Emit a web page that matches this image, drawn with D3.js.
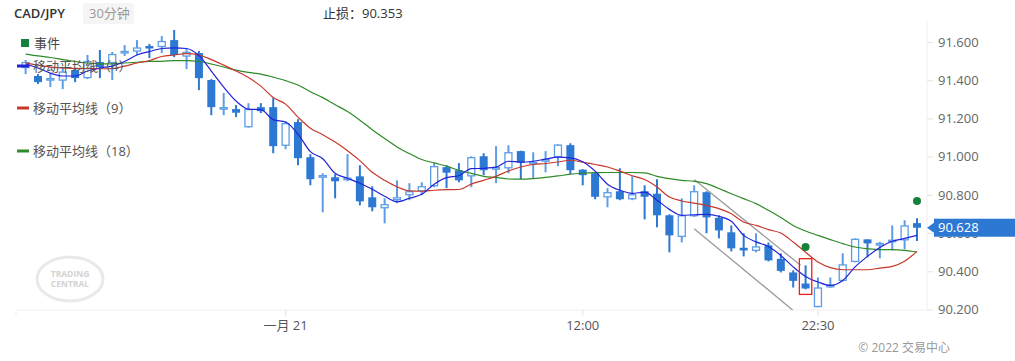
<!DOCTYPE html>
<html>
<head>
<meta charset="utf-8">
<script src="https://cdn.jsdelivr.net/npm/d3@7"></script>
<style>
  body { margin: 0; background: #fff; }
  svg { display: block; font-family: "Open Sans", "Noto Sans CJK SC", sans-serif; }
</style>
</head>
<body>
<div id="chart"></div>
<script>
// 30 minute candles, CAD/JPY
const open = [91.464,91.422,91.406,91.398,91.453,91.411,91.495,91.490,91.542,91.550,
  91.579,91.574,91.610,91.524,91.542,91.401,91.257,91.249,91.154,91.259,
  91.259,91.057,91.181,90.997,90.895,90.892,90.879,90.897,90.787,90.730,
  90.772,90.798,90.819,90.845,90.945,90.929,90.897,91.002,90.934,90.939,
  91.029,90.966,90.984,90.997,91.060,90.932,90.913,90.787,90.819,90.777,
  90.819,90.806,90.693,90.580,90.688,90.814,90.680,90.604,90.523,90.507,
  90.536,90.465,90.394,90.336,90.213,90.318,90.350,90.449,90.567,90.541,
  90.554,90.562,90.652];
const high = [91.506,91.432,91.437,91.464,91.464,91.532,91.558,91.548,91.584,91.610,
  91.590,91.631,91.663,91.563,91.553,91.406,91.333,91.270,91.280,91.280,
  91.306,91.186,91.196,91.013,90.913,90.908,91.013,90.955,90.845,90.782,
  90.876,90.861,90.866,90.966,90.955,90.966,91.002,91.018,91.055,91.060,
  91.031,91.023,91.029,91.065,91.070,90.934,90.921,90.835,90.939,90.897,
  90.850,90.882,90.698,90.782,90.850,90.819,90.693,90.640,90.599,90.599,
  90.551,90.494,90.405,90.431,90.368,90.368,90.494,90.572,90.567,90.554,
  90.640,90.667,90.677];
const low = [91.432,91.380,91.364,91.354,91.390,91.406,91.411,91.401,91.527,91.532,
  91.516,91.542,91.521,91.458,91.348,91.217,91.217,91.207,91.152,91.228,
  91.018,91.039,90.955,90.850,90.709,90.782,90.871,90.745,90.714,90.651,
  90.756,90.772,90.798,90.840,90.835,90.866,90.840,90.903,90.861,90.913,
  90.882,90.887,90.918,90.950,90.908,90.850,90.777,90.735,90.772,90.772,
  90.672,90.630,90.499,90.551,90.685,90.599,90.572,90.504,90.478,90.499,
  90.452,90.394,90.315,90.305,90.211,90.313,90.347,90.447,90.473,90.468,
  90.509,90.515,90.558];
const close = [91.495,91.390,91.411,91.445,91.411,91.500,91.469,91.537,91.553,91.571,
  91.566,91.605,91.532,91.548,91.411,91.259,91.259,91.230,91.249,91.238,
  91.055,91.175,90.992,90.882,90.903,90.871,90.890,90.766,90.735,90.751,
  90.787,90.819,90.845,90.950,90.916,90.876,90.997,90.929,90.945,91.023,
  90.968,90.973,90.987,91.063,90.929,90.903,90.790,90.814,90.777,90.803,
  90.790,90.693,90.588,90.693,90.819,90.682,90.614,90.520,90.509,90.530,
  90.457,90.402,90.350,90.310,90.315,90.329,90.436,90.570,90.546,90.548,
  90.565,90.640,90.628];

// moving averages as plotted
const ma4 = [91.485,91.464,91.437,91.422,91.422,91.448,91.464,91.474,91.498,91.532,
  91.550,91.566,91.569,91.566,91.529,91.448,91.364,91.291,91.249,91.246,
  91.194,91.181,91.118,91.026,90.989,90.913,90.887,90.861,90.829,90.793,
  90.764,90.782,90.803,90.856,90.890,90.900,90.937,90.939,90.945,90.976,
  90.971,90.976,90.987,90.997,90.994,90.973,90.924,90.856,90.824,90.808,
  90.814,90.772,90.724,90.693,90.696,90.698,90.688,90.662,90.588,90.554,
  90.530,90.483,90.423,90.373,90.344,90.326,90.352,90.423,90.478,90.525,
  90.557,90.572,90.588];
const ma9 = [91.490,91.479,91.469,91.464,91.462,91.461,91.460,91.461,91.474,91.490,
  91.503,91.524,91.532,91.539,91.532,91.508,91.479,91.448,91.414,91.369,
  91.309,91.275,91.207,91.149,91.115,91.076,91.031,90.979,90.918,90.876,
  90.842,90.821,90.819,90.824,90.827,90.828,90.856,90.876,90.897,90.925,
  90.946,90.959,90.964,90.972,90.981,90.971,90.959,90.946,90.924,90.900,
  90.880,90.841,90.789,90.768,90.757,90.745,90.728,90.701,90.658,90.640,
  90.618,90.600,90.553,90.500,90.448,90.419,90.408,90.408,90.408,90.417,
  90.426,90.453,90.504];
const ma18 = [91.537,91.527,91.519,91.508,91.498,91.490,91.485,91.486,91.490,91.494,
  91.499,91.499,91.503,91.503,91.498,91.485,91.469,91.453,91.441,91.432,
  91.416,91.398,91.375,91.340,91.309,91.272,91.236,91.191,91.141,91.095,
  91.051,91.016,90.985,90.967,90.950,90.929,90.912,90.897,90.891,90.883,
  90.882,90.885,90.891,90.899,90.908,90.913,90.916,90.917,90.917,90.917,
  90.915,90.897,90.885,90.876,90.871,90.859,90.833,90.806,90.780,90.754,
  90.719,90.681,90.640,90.611,90.588,90.566,90.545,90.527,90.518,90.513,
  90.513,90.509,90.500];

const tickIndex = [21, 45, 64];
const tickLabels = ["一月 21", "12:00", "22:30"];
const yTicks = [90.2, 90.4, 90.6, 90.8, 91.0, 91.2, 91.4, 91.6];

const eventIndex = [63, 72];
const eventPrice = [90.527, 90.768];

// channel drawn on the chart: [candle index, price]
const trendUpper = [[54, 90.880], [62.6, 90.431]];
const trendLower = [[54, 90.623], [62.0, 90.195]];

const boxIndex = 63;
const boxHigh = 90.466;
const boxLow = 90.279;

const stopLoss = "90.353";

const width = 1015, height = 361;
const plotLeft = 16, plotRight = 927, plotTop = 27, plotBottom = 310;
const blue = "#2d78d2", hollowBlue = "#5d9de6";

const x = d3.scaleLinear().domain([0, open.length - 1]).range([25.6, 917]);
const y = d3.scaleLinear().domain([90.2, 91.6]).range([309.5, 42]);

const svg = d3.select("#chart").append("svg")
    .attr("width", width)
    .attr("height", height);

svg.append("rect").attr("width", width).attr("height", height).attr("fill", "#fff");

svg.append("defs").append("clipPath").attr("id", "plot")
  .append("rect")
    .attr("x", plotLeft).attr("y", plotTop)
    .attr("width", plotRight - plotLeft).attr("height", plotBottom - plotTop);

// watermark
const wm = svg.append("g").attr("transform", "translate(70,279)");
wm.append("ellipse").attr("rx", 33).attr("ry", 22)
    .attr("fill", "none").attr("stroke", "#e9e9e9").attr("stroke-width", 3);
wm.append("text").attr("y", -2).attr("text-anchor", "middle")
    .attr("font-size", 8.5).attr("font-weight", 700).attr("fill", "#d2d2d2").text("TRADING");
wm.append("text").attr("y", 8).attr("text-anchor", "middle")
    .attr("font-size", 8.5).attr("font-weight", 700).attr("fill", "#d2d2d2").text("CENTRAL");

// bottom axis
svg.append("line")
    .attr("x1", plotLeft).attr("x2", plotRight)
    .attr("y1", plotBottom).attr("y2", plotBottom)
    .attr("stroke", "#efefef");
svg.append("line")
    .attr("x1", plotLeft).attr("x2", plotLeft)
    .attr("y1", plotBottom).attr("y2", plotBottom + 6)
    .attr("stroke", "#efefef");
const xt = svg.selectAll(".xtick").data(tickIndex).enter().append("g")
    .attr("transform", d => `translate(${x(d)},0)`);
xt.append("line").attr("y1", plotBottom).attr("y2", plotBottom + 6).attr("stroke", "#e4e4e4");
xt.append("text")
    .attr("y", plotBottom + 20)
    .attr("text-anchor", "middle")
    .attr("font-size", 13)
    .attr("fill", "#555")
    .text((d, i) => tickLabels[i]);

// right axis
svg.append("line")
    .attr("x1", plotRight).attr("x2", plotRight)
    .attr("y1", 20).attr("y2", plotBottom)
    .attr("stroke", "#efefef");
const yAxis = svg.append("g")
    .attr("transform", `translate(${plotRight},0)`)
    .call(d3.axisRight(y).tickValues(yTicks).tickFormat(d3.format(".3f")).tickSize(6).tickPadding(5));
yAxis.select(".domain").remove();
yAxis.selectAll("line").attr("stroke", "#e4e4e4");
yAxis.selectAll("text")
    .attr("font-size", 13)
    .attr("font-family", "'Open Sans', sans-serif")
    .attr("fill", "#666");

// candles
const plot = svg.append("g").attr("clip-path", "url(#plot)");
const bodyW = 8;
const candles = plot.selectAll(".candle").data(open).enter().append("g");
candles.append("line")
    .attr("x1", (d, i) => x(i)).attr("x2", (d, i) => x(i))
    .attr("y1", (d, i) => y(high[i])).attr("y2", (d, i) => y(low[i]))
    .attr("stroke", (d, i) => close[i] >= open[i] ? hollowBlue : blue)
    .attr("stroke-width", 2);
candles.append("rect")
    .attr("x", (d, i) => close[i] >= open[i] ? x(i) - bodyW / 2 + 0.5 : x(i) - bodyW / 2)
    .attr("y", (d, i) => y(Math.max(open[i], close[i])) + (close[i] >= open[i] ? 0.5 : 0))
    .attr("width", (d, i) => close[i] >= open[i] ? bodyW - 1 : bodyW)
    .attr("height", (d, i) => Math.max(1.5, Math.abs(y(open[i]) - y(close[i])) - (close[i] >= open[i] ? 1 : 0)))
    .attr("fill", (d, i) => close[i] >= open[i] ? "#fff" : blue)
    .attr("stroke", (d, i) => close[i] >= open[i] ? hollowBlue : "none")
    .attr("stroke-width", 1.3);

// trend channel
const tline = d3.line().x(d => x(d[0])).y(d => y(d[1]));
[trendUpper, trendLower].forEach(t => {
    plot.append("path").attr("d", tline(t))
        .attr("fill", "none").attr("stroke", "#9a9a9a").attr("stroke-width", 1.3);
});

// moving averages
const maLine = d3.line().x((d, i) => x(i)).y(d => y(d)).curve(d3.curveMonotoneX);
const maSeries = [
    { values: ma18, color: "#2f8a2a" },
    { values: ma9, color: "#c8382a" },
    { values: ma4, color: "#2222d8" }
];
maSeries.forEach(s => {
    plot.append("path").attr("d", maLine(s.values))
        .attr("fill", "none").attr("stroke", s.color).attr("stroke-width", 1.2);
});

// highlighted candle
svg.append("rect")
    .attr("x", x(boxIndex) - 6.2).attr("y", y(boxHigh))
    .attr("width", 12.4).attr("height", y(boxLow) - y(boxHigh))
    .attr("fill", "none").attr("stroke", "#e8201c").attr("stroke-width", 1.3);

// events
svg.selectAll(".event").data(eventIndex).enter().append("circle")
    .attr("cx", d => x(d))
    .attr("cy", (d, i) => y(eventPrice[i]))
    .attr("r", 4)
    .attr("fill", "#14823a");

// last price tag
const last = close[close.length - 1];
const ly = y(last);
svg.append("path")
    .attr("d", `M${plotRight},${ly} L${plotRight + 7},${ly - 5} L${plotRight + 7},${ly + 5} Z`)
    .attr("fill", blue);
svg.append("rect")
    .attr("x", plotRight + 7).attr("y", ly - 9)
    .attr("width", width - plotRight - 7).attr("height", 18)
    .attr("fill", blue);
svg.append("text")
    .attr("x", plotRight + 11).attr("y", ly + 4.5)
    .attr("font-size", 13)
    .attr("fill", "#fff")
    .text(last.toFixed(3));

// header
svg.append("text").attr("x", 14).attr("y", 18)
    .attr("font-size", 13).attr("font-weight", 600).attr("fill", "#333").text("CAD/JPY");
svg.append("rect").attr("x", 83).attr("y", 3).attr("width", 51).attr("height", 21)
    .attr("rx", 3).attr("fill", "#f5f5f5");
svg.append("text").attr("x", 89).attr("y", 18)
    .attr("font-size", 13).attr("fill", "#999").text("30分钟");
svg.append("text").attr("x", 323).attr("y", 18)
    .attr("font-size", 13).attr("fill", "#333").text("止损：" + stopLoss);

// legend
const legend = svg.append("g");
legend.append("rect").attr("x", 21).attr("y", 39).attr("width", 8).attr("height", 8).attr("fill", "#14823a");
legend.append("text").attr("x", 34).attr("y", 48).attr("font-size", 13).attr("fill", "#444").text("事件");
const legendItems = [
    { label: "移动平均线（4）", color: "#2222d8", ly: 66 },
    { label: "移动平均线（9）", color: "#c8382a", ly: 108 },
    { label: "移动平均线（18）", color: "#2f8a2a", ly: 151 }
];
legendItems.forEach(it => {
    legend.append("line").attr("x1", 17).attr("x2", 29).attr("y1", it.ly).attr("y2", it.ly)
        .attr("stroke", it.color).attr("stroke-width", 3);
    legend.append("text").attr("x", 33).attr("y", it.ly + 5)
        .attr("font-size", 13).attr("fill", "#555").text(it.label);
});

// footer
svg.append("text").attr("x", 950).attr("y", 352).attr("text-anchor", "end")
    .attr("font-size", 12).attr("fill", "#999").text("© 2022 交易中心");
</script>
</body>
</html>
